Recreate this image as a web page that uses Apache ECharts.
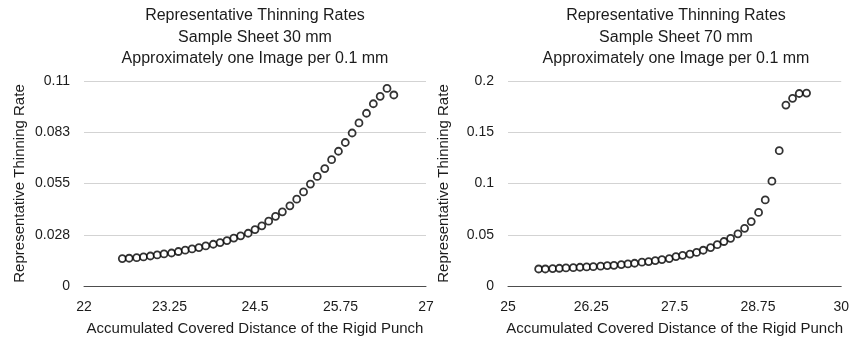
<!DOCTYPE html>
<html>
<head>
<meta charset="utf-8">
<script src="https://cdn.jsdelivr.net/npm/echarts@6/dist/echarts.min.js"></script>
<style>
  html, body { margin: 0; padding: 0; background: #fff; }
  #chart { width: 852px; height: 343px; }
</style>
</head>
<body>
<div id="chart"></div>
<script>
// Sample sheet 30 mm: accumulated punch distance vs. representative thinning rate
const dist30 = [22.56, 22.66, 22.77, 22.87, 22.97, 23.07, 23.17, 23.28, 23.38, 23.48,
                23.58, 23.68, 23.78, 23.89, 23.99, 24.09, 24.19, 24.29, 24.40, 24.50,
                24.60, 24.70, 24.80, 24.90, 25.01, 25.11, 25.21, 25.31, 25.41, 25.52,
                25.62, 25.72, 25.82, 25.92, 26.02, 26.13, 26.23, 26.33, 26.43, 26.53];
const rate30 = [0.0147, 0.0149, 0.0152, 0.0156, 0.0161, 0.0167, 0.0172, 0.0177, 0.0185, 0.0192,
                0.0199, 0.0206, 0.0215, 0.0224, 0.0233, 0.0244, 0.0257, 0.0269, 0.0283, 0.0303,
                0.0323, 0.0348, 0.0374, 0.0398, 0.0430, 0.0466, 0.0505, 0.0547, 0.0588, 0.0630,
                0.0678, 0.0723, 0.0770, 0.0821, 0.0875, 0.0927, 0.0978, 0.1018, 0.1060, 0.1025];

// Sample sheet 70 mm
const dist70 = [25.46, 25.56, 25.67, 25.77, 25.87, 25.98, 26.08, 26.18, 26.28, 26.39,
                26.49, 26.59, 26.70, 26.80, 26.90, 27.01, 27.11, 27.21, 27.31, 27.42,
                27.52, 27.62, 27.73, 27.83, 27.93, 28.04, 28.14, 28.24, 28.34, 28.45,
                28.55, 28.65, 28.76, 28.86, 28.96, 29.07, 29.17, 29.27, 29.37, 29.48];
const rate70 = [0.0166, 0.0166, 0.0170, 0.0173, 0.0176, 0.0179, 0.0183, 0.0186, 0.0189, 0.0193,
                0.0199, 0.0202, 0.0209, 0.0215, 0.0222, 0.0232, 0.0238, 0.0248, 0.0258, 0.0268,
                0.0287, 0.0299, 0.0311, 0.0328, 0.0349, 0.0375, 0.0403, 0.0434, 0.0465, 0.0509,
                0.0563, 0.0629, 0.0718, 0.0840, 0.1023, 0.1320, 0.1765, 0.1831, 0.1878, 0.1882];

// Axis settings
const xRange30 = [22, 27];
const xRange70 = [25, 30];
const xStep = 1.25;
const yMax30 = 0.11, yStep30 = 0.0275;
const yMax70 = 0.2, yStep70 = 0.05;

const titles = [
  'Representative Thinning Rates\nSample Sheet 30 mm\nApproximately one Image per 0.1 mm',
  'Representative Thinning Rates\nSample Sheet 70 mm\nApproximately one Image per 0.1 mm'
];
const xName = 'Accumulated Covered Distance of the Rigid Punch';
const yName = 'Representative Thinning Rate';

const FONT = '"Liberation Sans", Arial, Helvetica, sans-serif';
const TEXT = '#1c1c1c';

function pair(xs, ys) { return xs.map((x, i) => [x, ys[i]]); }

function fmtY(v) {
  if (v === 0) return '0';
  return String(Math.round(v * 1000) / 1000);
}

function xAxis(idx, range) {
  return {
    type: 'value', gridIndex: idx, min: range[0], max: range[1], interval: xStep,
    name: xName, nameLocation: 'middle', nameGap: 35,
    nameTextStyle: { color: TEXT, fontSize: 15, fontFamily: FONT },
    axisLine: { show: true, lineStyle: { color: '#4d4d4d', width: 1 } },
    axisTick: { show: false },
    splitLine: { show: false },
    axisLabel: { color: TEXT, fontSize: 14, fontFamily: FONT, margin: 14 }
  };
}

function yAxis(idx, max, step, fmt) {
  return {
    type: 'value', gridIndex: idx, min: 0, max: max, interval: step,
    name: yName, nameLocation: 'middle', nameGap: 57, nameRotate: 90,
    nameTextStyle: { color: TEXT, fontSize: 15, fontFamily: FONT },
    axisLine: { show: false },
    axisTick: { show: false },
    splitLine: { show: true, lineStyle: { color: '#d3d3d3', width: 1 } },
    axisLabel: { color: TEXT, fontSize: 14, fontFamily: FONT, margin: 14, formatter: fmt }
  };
}

function scatter(idx, data) {
  return {
    type: 'scatter', xAxisIndex: idx, yAxisIndex: idx,
    data: data, symbol: 'circle', symbolSize: 7,
    itemStyle: { color: '#ffffff', borderColor: '#000000', borderWidth: 1.8 },
    emphasis: { disabled: true }, animation: false
  };
}

const titleStyle = { color: TEXT, fontSize: 16, fontWeight: 'normal', fontFamily: FONT, lineHeight: 21.5 };

const chart = echarts.init(document.getElementById('chart'), null, { renderer: 'canvas' });
chart.setOption({
  backgroundColor: '#ffffff',
  animation: false,
  title: [
    { text: titles[0], left: 255, top: 5, padding: 0, textAlign: 'center', textStyle: titleStyle },
    { text: titles[1], left: 676, top: 5, padding: 0, textAlign: 'center', textStyle: titleStyle }
  ],
  grid: [
    { left: 84, right: 426, top: 81, bottom: 57 },
    { left: 508, right: 7, top: 81, bottom: 57 }
  ],
  xAxis: [xAxis(0, xRange30), xAxis(1, xRange70)],
  yAxis: [yAxis(0, yMax30, yStep30, fmtY), yAxis(1, yMax70, yStep70, fmtY)],
  series: [scatter(0, pair(dist30, rate30)), scatter(1, pair(dist70, rate70))]
});
</script>
</body>
</html>
